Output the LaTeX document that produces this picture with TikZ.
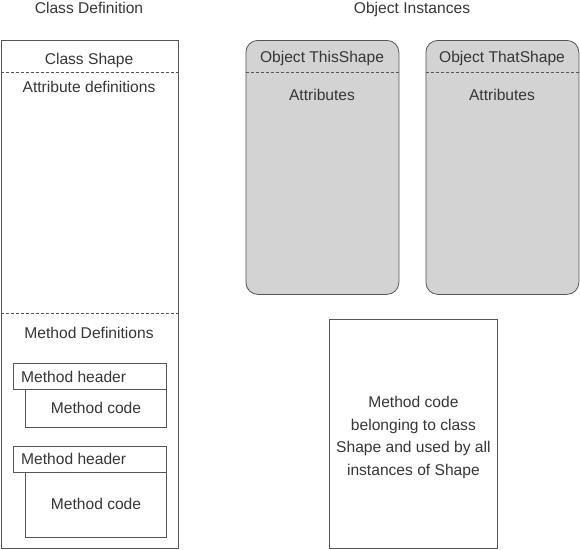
\documentclass[tikz,border=0pt]{standalone}
\usepackage{fontspec}
\setmainfont{Liberation Sans}
\definecolor{linegray}{HTML}{555555}
\definecolor{objfill}{HTML}{D3D3D3}
\definecolor{textgray}{HTML}{363636}
\tikzset{
  box/.style = {draw = linegray, line width = .8pt, anchor = north west, inner sep = 0pt},
  objbox/.style = {box, fill = objfill, rounded corners = 12pt},
  sep/.style = {draw = linegray, line width = .7pt, dash pattern = on 3pt off 2pt},
  txt/.style = {text = textgray, font = \fontsize{15.6}{18}\selectfont, anchor = base, inner sep = 0pt}
}
\begin{document}
\begin{tikzpicture}[x = 1pt, y = -1pt]
    \useasboundingbox (0,0) rectangle (580,549);
    % class definition
    \node [txt] (classtitle) at (89,13) {Class Definition};
    \node [box, minimum width = 177.5pt, minimum height = 508pt] (class) at (.5,40) {};
    \draw [sep] ([yshift = -32pt]class.north west) -- ([yshift = -32pt]class.north east);
    \draw [sep] ([yshift = -273pt]class.north west) -- ([yshift = -273pt]class.north east);
    \node [txt] (classname) at (89,64) {Class Shape};
    \node [txt] (attrdefs) at (89,92) {Attribute definitions};
    \node [txt] (methdefs) at (89,338) {Method Definitions};
    \node [box, minimum width = 141pt, minimum height = 38pt] (code1) at (25,389) {};
    \node [box, minimum width = 153pt, minimum height = 26pt] (head1) at (13,363) {};
    \node [box, minimum width = 141pt, minimum height = 65pt] (code2) at (25,472) {};
    \node [box, minimum width = 153pt, minimum height = 26pt] (head2) at (13,446) {};
    \node [txt, anchor = base west] (headtxt1) at (21,382) {Method header};
    \node [txt] (codetxt1) at (96,413) {Method code};
    \node [txt, anchor = base west] (headtxt2) at (21,464) {Method header};
    \node [txt] (codetxt2) at (96,509) {Method code};
    % object instances
    \node [txt] (objtitle) at (412,13) {Object Instances};
    \node [objbox, minimum width = 153pt, minimum height = 254pt] (this) at (245.5,40) {};
    \node [objbox, minimum width = 153pt, minimum height = 254pt] (that) at (425.5,40) {};
    \draw [sep] ([yshift = -32pt]this.north west) -- ([yshift = -32pt]this.north east);
    \draw [sep] ([yshift = -32pt]that.north west) -- ([yshift = -32pt]that.north east);
    \node [txt] (thisname) at (322,62) {Object ThisShape};
    \node [txt] (thisattr) at (322,100) {Attributes};
    \node [txt] (thatname) at (502,62) {Object ThatShape};
    \node [txt] (thatattr) at (502,100) {Attributes};
    % shared method code
    \node [box, minimum width = 168pt, minimum height = 229pt] (shared) at (329,319) {};
    \node [txt, anchor = center, align = center, font = \fontsize{15.6}{22.7}\selectfont]
      (sharedtxt) at ([yshift = -3.5pt]shared.center)
      {Method code\\belonging to class\\Shape and used by all\\instances of Shape};
\end{tikzpicture}
\end{document}
